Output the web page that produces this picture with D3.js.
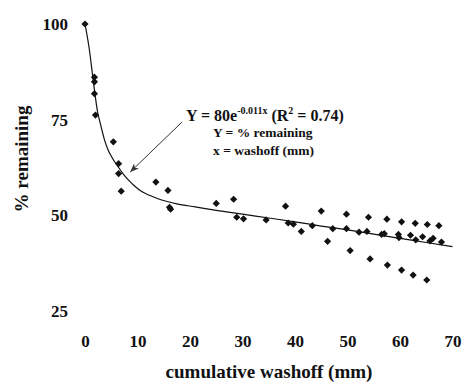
<!DOCTYPE html>
<html>
<head>
<meta charset="utf-8">
<script src="https://cdn.jsdelivr.net/npm/d3@7"></script>
<style>
  html, body { margin: 0; padding: 0; background: #fff; }
  svg { display: block; }
  text { font-family: "Liberation Serif", "Times New Roman", serif; font-weight: bold; fill: #111; }
</style>
</head>
<body>
<svg id="chart" width="466" height="384"></svg>
<script>
// ---- data ----
const washoff = [0, 1.8, 1.8, 1.8, 2.0, 5.4, 6.4, 6.4, 6.9, 13.5, 15.8, 16.1, 16.3, 25.0, 28.3, 28.9, 30.2, 34.5, 38.2, 38.7, 39.7, 41.2, 43.3, 45.0, 46.2, 47.2, 49.8, 49.8, 50.5, 52.2, 53.7, 54.0, 54.3, 56.5, 57.0, 57.5, 57.6, 59.7, 59.8, 60.3, 60.3, 62.0, 62.5, 62.9, 63.0, 64.3, 65.1, 65.2, 65.7, 66.3, 67.4, 67.9];
const remaining = [100, 86.1, 84.9, 81.8, 76.2, 69.2, 63.5, 60.9, 56.3, 58.7, 56.5, 52.1, 51.6, 53.1, 54.2, 49.5, 49.1, 48.8, 52.4, 48.0, 47.7, 45.8, 47.3, 51.1, 43.2, 46.5, 50.3, 46.5, 40.8, 45.6, 45.8, 49.5, 38.6, 45.0, 45.2, 49.0, 37.0, 45.0, 44.2, 48.3, 35.7, 44.8, 34.4, 47.9, 43.6, 44.4, 33.1, 47.6, 43.3, 44.0, 47.3, 43.0];
const fitX = [0, 0.8, 1.6, 2.4, 2.9, 3.7, 4.4, 5.2, 6.3, 7.3, 8.3, 9.5, 10.8, 12.5, 14.6, 17.5, 21, 25, 30, 35, 40, 45, 50, 55, 60, 65, 70];
const fitY = [100, 93.6, 84.9, 77, 74.1, 69.8, 67.1, 65, 62.7, 60.8, 59.2, 57.6, 56.2, 55.1, 54.0, 53.0, 52.2, 51.3, 50.3, 49.3, 48.3, 47.2, 46.2, 45.1, 44.0, 42.9, 41.8];
const xTicks = [0, 10, 20, 30, 40, 50, 60, 70];
const yTicks = [25, 50, 75, 100];
const xTitle = "cumulative washoff (mm)";
const yTitle = "% remaining";

const svg = d3.select("#chart");
const x = d3.scaleLinear().domain([0, 70]).range([85, 452.5]);
const y = d3.scaleLinear().domain([25, 100]).range([311, 24]);

// axes (no domain lines, no tick marks)
const gx = svg.append("g").attr("transform", `translate(0,${y(25)})`)
  .call(d3.axisBottom(x).tickValues(xTicks).tickSize(0).tickPadding(24).tickFormat(d3.format("d")));
gx.select(".domain").remove();
gx.selectAll("text").attr("font-size", 17).attr("fill", "#111")
  .attr("font-family", "Liberation Serif").attr("font-weight", "bold");

const gy = svg.append("g").attr("transform", `translate(${x(0)},0)`)
  .call(d3.axisLeft(y).tickValues(yTicks).tickSize(0).tickPadding(17).tickFormat(d3.format("d")));
gy.select(".domain").remove();
gy.selectAll("text").attr("font-size", 17).attr("fill", "#111")
  .attr("font-family", "Liberation Serif").attr("font-weight", "bold");

// axis titles
svg.append("text").attr("x", 269).attr("y", 378).attr("text-anchor", "middle")
  .attr("font-size", 19).text(xTitle);
svg.append("text").attr("transform", "translate(28,159) rotate(-90)").attr("text-anchor", "middle")
  .attr("font-size", 19).text(yTitle);

// fitted curve
const line = d3.line().x((d, i) => x(fitX[i])).y(d => y(d)).curve(d3.curveMonotoneX);
svg.append("path").attr("d", line(fitY)).attr("fill", "none").attr("stroke", "#111").attr("stroke-width", 1.2);

// points (diamonds)
const diamond = d3.symbol().type(d3.symbolSquare).size(26);
svg.append("g").selectAll("path").data(remaining).join("path")
  .attr("d", diamond)
  .attr("transform", (d, i) => `translate(${x(washoff[i])},${y(d)}) rotate(45)`)
  .attr("fill", "#111");

// arrow
svg.append("defs").append("marker").attr("id", "ah")
  .attr("viewBox", "0 0 10 10").attr("refX", 10).attr("refY", 5)
  .attr("markerWidth", 9).attr("markerHeight", 9).attr("markerUnits", "userSpaceOnUse")
  .attr("orient", "auto")
  .append("path").attr("d", "M0,1 L10,5 L0,9 L3,5 Z").attr("fill", "#333");
svg.append("line")
  .attr("x1", x(18.5)).attr("y1", y(74.4)).attr("x2", x(8.6)).attr("y2", y(61.3))
  .attr("stroke", "#333").attr("stroke-width", 1).attr("marker-end", "url(#ah)");

// annotation
const t1 = svg.append("text").attr("x", 186).attr("y", 121).attr("font-size", 16);
t1.append("tspan").text("Y = 80e");
t1.append("tspan").attr("font-size", 10).attr("dy", -7).text("-0.011x");
t1.append("tspan").attr("dy", 7).text(" (R");
t1.append("tspan").attr("font-size", 10).attr("dy", -7).text("2");
t1.append("tspan").attr("dy", 7).text(" = 0.74)");
svg.append("text").attr("x", 213).attr("y", 137).attr("font-size", 13.5).text("Y = % remaining");
svg.append("text").attr("x", 213).attr("y", 155).attr("font-size", 13.5).text("x = washoff (mm)");
</script>
</body>
</html>
